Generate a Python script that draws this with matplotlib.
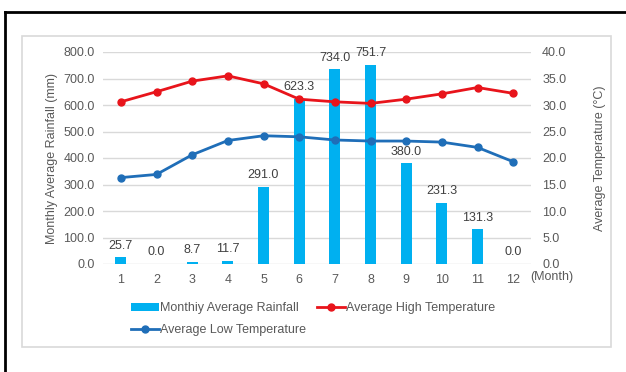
import numpy as np
import matplotlib.pyplot as plt
from matplotlib.lines import Line2D
from matplotlib.patches import Rectangle

plt.rcParams["font.family"] = ["Liberation Sans", "DejaVu Sans"]
FONT_SIZE = 9
TEXT_COLOR = "#595959"

months = [1, 2, 3, 4, 5, 6, 7, 8, 9, 10, 11, 12]
rainfall = [25.7, 0.0, 8.7, 11.7, 291.0, 623.3, 734.0, 751.7, 380.0, 231.3, 131.3, 0.0]
high_temp = [30.6, 32.5, 34.5, 35.5, 34.0, 31.1, 30.6, 30.3, 31.1, 32.1, 33.3, 32.2]
low_temp = [16.3, 16.9, 20.6, 23.3, 24.2, 24.0, 23.4, 23.2, 23.2, 23.0, 22.0, 19.3]

fig = plt.figure(figsize=(6.26, 3.72), dpi=100)

# outer black frame (top and left only visible)
fig.add_artist(Line2D([5 / 626, 5 / 626], [0, 1 - 12 / 372], color="black", lw=2))
fig.add_artist(Line2D([5 / 626, 1], [1 - 12 / 372, 1 - 12 / 372], color="black", lw=2))
# light chart area box
fig.add_artist(Rectangle((22 / 626, 1 - 347 / 372), (611 - 22) / 626, (347 - 36) / 372,
                         facecolor="none", edgecolor="#D9D9D9", lw=1.2, zorder=-1))

ax = fig.add_axes([103 / 626, 1 - 264 / 372, (531 - 103) / 626, (264 - 52) / 372])
ax2 = ax.twinx()
ax.patch.set_visible(False)
ax2.patch.set_visible(False)

x = np.array(months)
bars = ax.bar(x, rainfall, width=0.3, color="#00B0F0", label="Monthiy Average Rainfall", zorder=2)
for xi, v in zip(x, rainfall):
    ax.annotate(f"{v:.1f}", (xi, v), xytext=(0, 4), textcoords="offset points",
                ha="center", va="bottom", fontsize=FONT_SIZE, color="#404040")

l_low, = ax2.plot(x, low_temp, color="#1F6EB8", lw=2, marker="o", markersize=5,
                  label="Average Low Temperature")
l_high, = ax2.plot(x, high_temp, color="#E8141B", lw=2, marker="o", markersize=5,
                   label="Average High Temperature")

ax.set_xlim(0.5, 12.5)
ax.set_ylim(0, 800)
ax2.set_ylim(0, 40)
ax.set_yticks(np.arange(0, 801, 100))
ax.set_yticklabels([f"{v:.1f}" for v in np.arange(0, 801, 100)])
ax2.set_yticks(np.arange(0, 41, 5))
ax2.set_yticklabels([f"{v:.1f}" for v in np.arange(0, 41, 5)])
ax.set_xticks(x)
ax.set_xticklabels([str(m) for m in months])

for a in (ax, ax2):
    for s in a.spines.values():
        s.set_visible(False)
    a.tick_params(length=0, labelsize=FONT_SIZE, labelcolor=TEXT_COLOR)
ax.tick_params(axis="y", pad=6)
ax2.tick_params(axis="y", pad=8)
ax.tick_params(axis="x", pad=7)
ax.grid(axis="y", color="#D9D9D9", lw=1, zorder=0)
ax.set_axisbelow(True)

ax.set_ylabel("Monthly Average Rainfall (mm)", fontsize=FONT_SIZE, color=TEXT_COLOR, labelpad=4)
ax2.set_ylabel("Average Temperature (\u00b0C)", fontsize=FONT_SIZE, color=TEXT_COLOR, labelpad=20)
fig.text(530 / 626, 1 - 277 / 372, "(Month)", fontsize=FONT_SIZE, color=TEXT_COLOR,
         ha="left", va="center")

fig.legend([bars, l_low, l_high],
           ["Monthiy Average Rainfall", "Average Low Temperature", "Average High Temperature"],
           loc="upper left", bbox_to_anchor=(125 / 626, 1 - 296 / 372), ncol=2,
           frameon=False, fontsize=FONT_SIZE, labelcolor=TEXT_COLOR,
           handlelength=2.2, handletextpad=0.1, columnspacing=0.9, labelspacing=0.8,
           borderpad=0)

fig.savefig("out.png", dpi=100)
